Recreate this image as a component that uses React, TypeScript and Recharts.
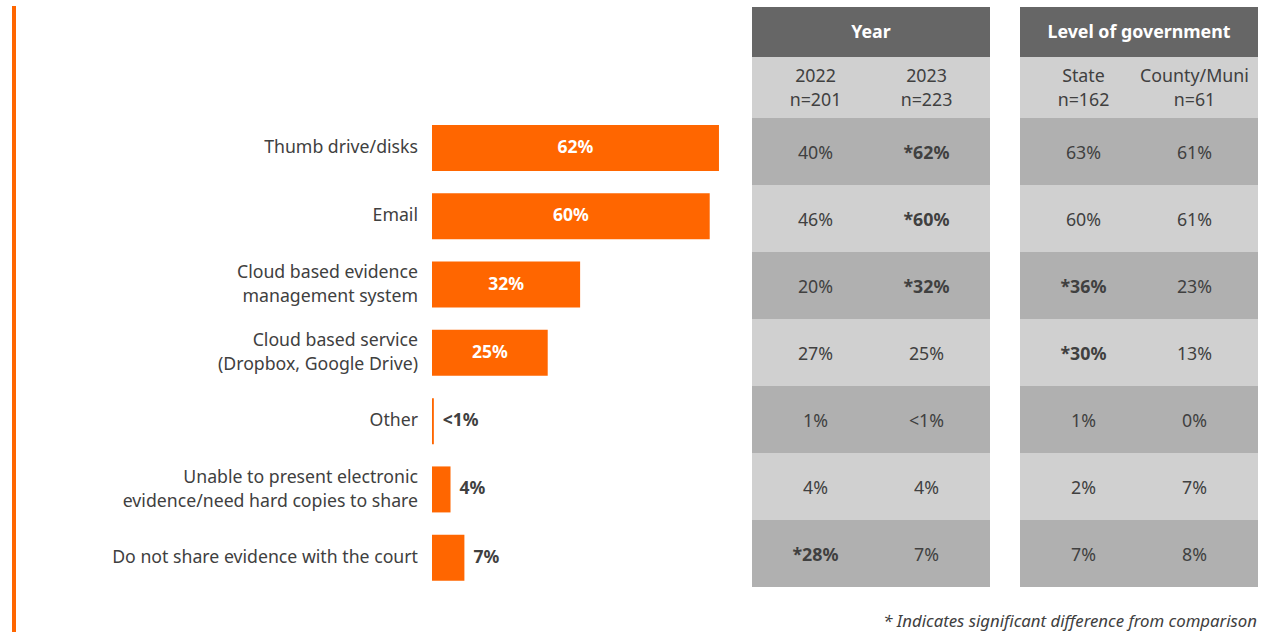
import React from 'react';
import { BarChart, Bar, XAxis, YAxis, LabelList } from 'recharts';

const categories = [
  ['Thumb drive/disks'],
  ['Email'],
  ['Cloud based evidence', 'management system'],
  ['Cloud based service', '(Dropbox, Google Drive)'],
  ['Other'],
  ['Unable to present electronic', 'evidence/need hard copies to share'],
  ['Do not share evidence with the court'],
];
const values = [62, 60, 32, 25, 0.4, 4, 7];
const valueLabels = ['62%', '60%', '32%', '25%', '<1%', '4%', '7%'];

const yearHeads = [['2022', 'n=201'], ['2023', 'n=223']];
const year2022 = ['40%', '46%', '20%', '27%', '1%', '4%', '*28%'];
const year2023 = ['*62%', '*60%', '*32%', '25%', '<1%', '4%', '7%'];

const levelHeads = [['State', 'n=162'], ['County/Muni', 'n=61']];
const stateVals = ['63%', '60%', '*36%', '*30%', '1%', '2%', '7%'];
const countyVals = ['61%', '61%', '23%', '13%', '0%', '7%', '8%'];

const FONT = '"Noto Sans", "Open Sans", sans-serif';
const ORANGE = '#ff6600';
const TEXT = '#404040';

const data = categories.map((lines, i) => ({
  name: lines.join('\n'),
  value: values[i],
  label: valueLabels[i],
}));

const CategoryTick = (props: any) => {
  const { x, y, payload } = props;
  const lines = String(payload.value).split('\n');
  const start = -((lines.length - 1) * 24) / 2;
  return (
    <text x={x} y={y} textAnchor="end" fill={TEXT} fontSize={17.7} fontFamily={FONT}>
      {lines.map((l, i) => (
        <tspan key={i} x={x} dy={i === 0 ? start + 5 : 24}>
          {l}
        </tspan>
      ))}
    </text>
  );
};

const BarLabel = (props: any) => {
  const { x, y, width, height, index } = props;
  const v = values[index];
  const inside = v > 15;
  return (
    <text
      x={inside ? x + width / 2 : x + width + 9}
      y={y + height / 2 + 5}
      textAnchor={inside ? 'middle' : 'start'}
      fill={inside ? '#ffffff' : TEXT}
      fontSize={17.5}
      fontWeight={700}
      fontFamily={FONT}
    >
      {valueLabels[index]}
    </text>
  );
};

const Table = ({ left, title, heads, cols }: any) => {
  const rowH = 67;
  const pad = (k: number) => (k === 0 ? { paddingLeft: 8 } : { paddingRight: 8 });
  return (
    <div style={{ position: 'absolute', left, top: 7, width: 238, fontFamily: FONT, fontSize: 17.8, color: TEXT }}>
      <div style={{ height: 50, background: '#666666', color: '#fff', fontWeight: 700, display: 'flex', alignItems: 'center', justifyContent: 'center', paddingBottom: 2, boxSizing: 'border-box' }}>
        {title}
      </div>
      <div style={{ height: 61, background: '#d0d0d0', display: 'flex' }}>
        {heads.map((h: string[], i: number) => (
          <div key={i} style={{ flex: 1, display: 'flex', flexDirection: 'column', justifyContent: 'center', alignItems: 'center', lineHeight: '24px', paddingBottom: 2, ...pad(i) }}>
            {h.map((t, j) => (
              <div key={j} style={{ whiteSpace: 'nowrap' }}>{t}</div>
            ))}
          </div>
        ))}
      </div>
      {cols[0].map((_: string, r: number) => (
        <div key={r} style={{ height: rowH, background: r % 2 === 0 ? '#b0b0b0' : '#d0d0d0', display: 'flex' }}>
          {cols.map((c: string[], k: number) => (
            <div key={k} style={{ flex: 1, display: 'flex', alignItems: 'center', justifyContent: 'center', fontWeight: c[r].startsWith('*') ? 700 : 400, ...pad(k) }}>
              {c[r]}
            </div>
          ))}
        </div>
      ))}
    </div>
  );
};

export default function App() {
  return (
    <div style={{ position: 'absolute', left: 0, top: 0, width: 1262, height: 632, background: '#fff', overflow: 'hidden' }}>
      <div style={{ position: 'absolute', left: 12, top: 6, width: 4, height: 626, background: ORANGE }} />
      <BarChart
        width={1262}
        height={632}
        data={data}
        layout="vertical"
        margin={{ top: 114, right: 506, bottom: 40, left: 0 }}
        barSize={46}
      >
        <XAxis type="number" domain={[0, 70]} hide />
        <YAxis
          type="category"
          dataKey="name"
          width={432}
          axisLine={false}
          tickLine={false}
          tickSize={0}
          tickMargin={14}
          tick={<CategoryTick />}
        />
        <Bar dataKey="value" fill={ORANGE} isAnimationActive={false}>
          <LabelList dataKey="label" content={<BarLabel />} />
        </Bar>
      </BarChart>
      <Table left={752} title="Year" heads={yearHeads} cols={[year2022, year2023]} />
      <Table left={1020} title="Level of government" heads={levelHeads} cols={[stateVals, countyVals]} />
      <div style={{ position: 'absolute', right: 5, top: 610, fontFamily: FONT, fontSize: 16.8, lineHeight: '22px', fontStyle: 'italic', color: TEXT, whiteSpace: 'nowrap' }}>
        * Indicates significant difference from comparison
      </div>
    </div>
  );
}
